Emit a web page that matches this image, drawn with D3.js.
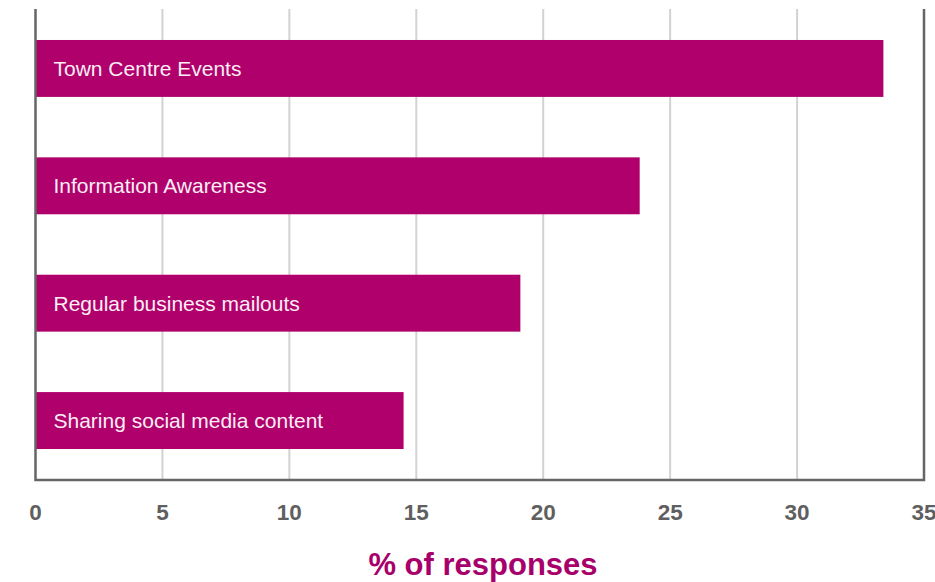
<!DOCTYPE html>
<html>
<head>
<meta charset="utf-8">
<script src="https://cdn.jsdelivr.net/npm/d3@7"></script>
<style>
  body { margin: 0; background: #fff; }
  svg { display: block; font-family: "Liberation Sans", Arial, Helvetica, sans-serif; }
</style>
</head>
<body>
<div id="chart"></div>
<script>
let width = 935;
let height = 582;

// data
let categories = ["Town Centre Events", "Information Awareness", "Regular business mailouts", "Sharing social media content"];
let values = [33.4, 23.8, 19.1, 14.5];
let ticks = [0, 5, 10, 15, 20, 25, 30, 35];
let axisTitle = "% of responses";

let plotLeft = 35.5, plotRight = 924, plotTop = 9, plotBottom = 480;

let svg = d3.select("#chart")
    .append("svg")
    .attr("width", width)
    .attr("height", height);

let x = d3.scaleLinear()
    .domain([0, 35])
    .range([plotLeft, plotRight]);

let y = d3.scaleBand()
    .domain(categories)
    .range([plotTop, plotBottom])
    .paddingInner(0.515)
    .paddingOuter(0.264);

// gridlines
svg.append("g")
    .selectAll("line")
    .data(ticks.filter(t => t > 0 && t < 35))
    .enter()
    .append("line")
    .attr("x1", d => x(d))
    .attr("x2", d => x(d))
    .attr("y1", plotTop)
    .attr("y2", plotBottom)
    .attr("stroke", "#d2d2d2")
    .attr("stroke-width", 2);

// bars
let bars = svg.append("g")
    .selectAll("g")
    .data(categories)
    .enter()
    .append("g");

bars.append("rect")
    .attr("x", x(0))
    .attr("y", d => y(d))
    .attr("width", (d, i) => x(values[i]) - x(0))
    .attr("height", y.bandwidth())
    .attr("fill", "#b0006b");

bars.append("text")
    .attr("x", x(0) + 18)
    .attr("y", d => y(d) + y.bandwidth() / 2)
    .attr("dy", "0.35em")
    .attr("fill", "#fbeef5")
    .attr("font-size", "21px")
    .text(d => d);

// frame: left, bottom, right
svg.append("path")
    .attr("d", d3.line()([[x(0), plotTop], [x(0), plotBottom], [x(35), plotBottom], [x(35), plotTop]]))
    .attr("stroke", "#666")
    .attr("stroke-width", 2.5)
    .attr("fill", "none");

// tick labels
svg.append("g")
    .selectAll("text")
    .data(ticks)
    .enter()
    .append("text")
    .attr("x", d => x(d))
    .attr("y", 512)
    .attr("dy", "0.35em")
    .attr("text-anchor", "middle")
    .attr("font-size", "22.5px")
    .attr("font-weight", "bold")
    .attr("fill", "#5f5f5f")
    .text(d => d);

svg.append("text")
    .attr("x", 483)
    .attr("y", 564)
    .attr("dy", "0.35em")
    .attr("text-anchor", "middle")
    .attr("font-size", "31px")
    .attr("font-weight", "bold")
    .attr("fill", "#a8006a")
    .text(axisTitle);
</script>
</body>
</html>
